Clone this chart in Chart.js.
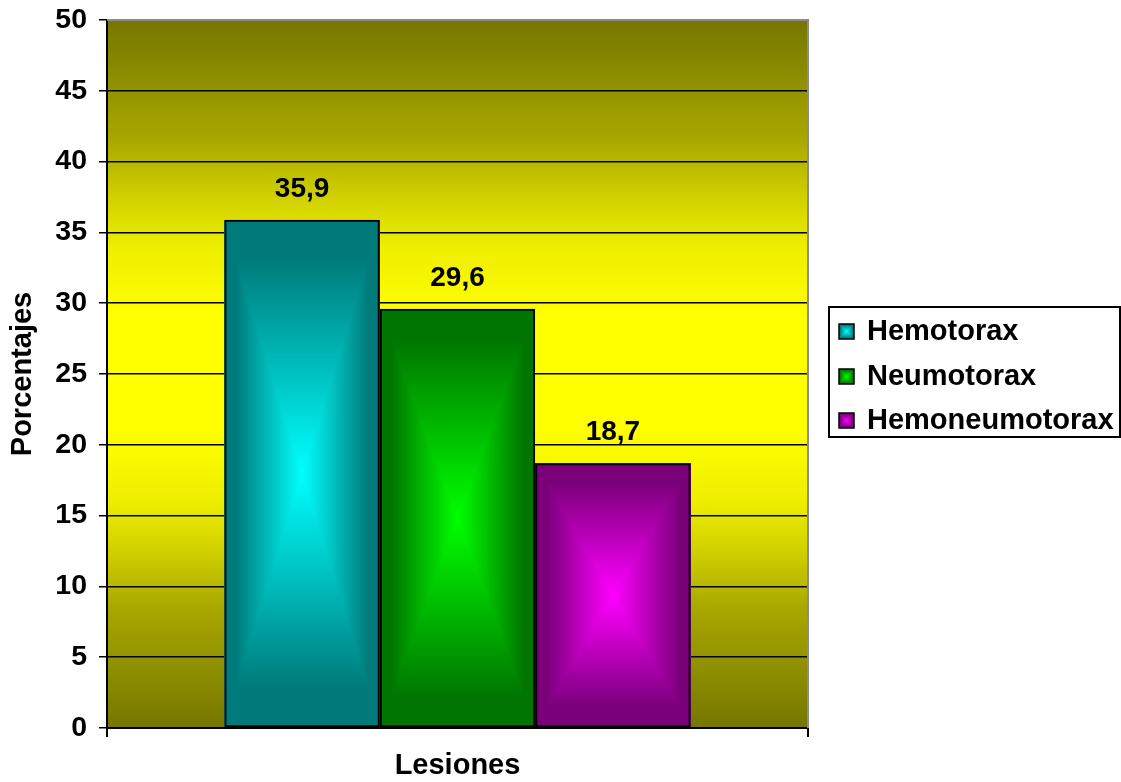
<!DOCTYPE html>
<html>
<head>
<meta charset="utf-8">
<script src="https://cdn.jsdelivr.net/npm/chart.js@4.4.1/dist/chart.umd.min.js"></script>
<style>
  html, body { margin: 0; padding: 0; background: #fff; }
  #wrap { width: 1121px; height: 782px; }
</style>
</head>
<body>
<div id="wrap"><canvas id="lesionesChart" width="1121" height="782"></canvas></div>
<script>
// data
const categories = [''];
const seriesNames = ['Hemotorax', 'Neumotorax', 'Hemoneumotorax'];
const seriesValues = [35.9, 29.6, 18.7];
const yTicks = [0, 5, 10, 15, 20, 25, 30, 35, 40, 45, 50];

// dark edge / bright centre for each series (rgb)
const darkColors = [[0, 122, 122], [0, 118, 0], [122, 0, 122]];
const brightColors = [[0, 255, 255], [0, 255, 0], [255, 0, 255]];

const FONT = '"Liberation Sans", Arial, sans-serif';

// rectangular "from centre" gradient, painted per pixel so there are no seams
function fillRectGradient(ctx, left, top, right, bottom, dark, bright) {
    const x0 = Math.round(left), y0 = Math.round(top);
    const w = Math.max(1, Math.round(right) - x0);
    const h = Math.max(1, Math.round(bottom) - y0);
    const img = ctx.createImageData(w, h);
    const hw = w / 2, hh = h / 2;
    for (let j = 0; j < h; j++) {
        const dy = Math.abs(j + 0.5 - hh) / hh;
        for (let i = 0; i < w; i++) {
            const dx = Math.abs(i + 0.5 - hw) / hw;
            let t = Math.max(dx, dy);       // 0 centre .. 1 edge
            // keep the rim dark a little longer
            t = t > 0.85 ? 1 : t / 0.85;
            const k = 1 - t;
            const p = (j * w + i) * 4;
            img.data[p] = dark[0] + (bright[0] - dark[0]) * k;
            img.data[p + 1] = dark[1] + (bright[1] - dark[1]) * k;
            img.data[p + 2] = dark[2] + (bright[2] - dark[2]) * k;
            img.data[p + 3] = 255;
        }
    }
    const off = document.createElement('canvas');
    off.width = w;
    off.height = h;
    off.getContext('2d').putImageData(img, 0, 0);
    ctx.drawImage(off, x0, y0);
}

// olive -> yellow -> olive plot background
const backgroundPlugin = {
    id: 'plotBackground',
    beforeDraw: (chart) => {
        const { ctx, chartArea } = chart;
        ctx.save();
        ctx.fillStyle = '#ffffff';
        ctx.fillRect(0, 0, chart.width, chart.height);
        const g = ctx.createLinearGradient(0, chartArea.top, 0, chartArea.bottom);
        g.addColorStop(0, '#767600');
        g.addColorStop(0.17, '#a8a800');
        g.addColorStop(0.25, '#d0d000');
        g.addColorStop(0.32, '#eeee00');
        g.addColorStop(0.42, '#ffff00');
        g.addColorStop(0.58, '#ffff00');
        g.addColorStop(0.68, '#eeee00');
        g.addColorStop(0.75, '#d0d000');
        g.addColorStop(0.83, '#a8a800');
        g.addColorStop(1, '#767600');
        ctx.fillStyle = g;
        ctx.fillRect(chartArea.left, chartArea.top, chartArea.right - chartArea.left, chartArea.bottom - chartArea.top);
        ctx.restore();
    },
};

// gradient fill under each bar's border
const barFillPlugin = {
    id: 'barFill',
    beforeDatasetsDraw: (chart) => {
        const { ctx } = chart;
        ctx.save();
        chart.data.datasets.forEach((ds, i) => {
            const meta = chart.getDatasetMeta(i);
            meta.data.forEach((bar) => {
                const { x, y, base, width } = bar.getProps(['x', 'y', 'base', 'width'], true);
                fillRectGradient(ctx, x - width / 2, y, x + width / 2, base, darkColors[i], brightColors[i]);
            });
        });
        ctx.restore();
    },
    afterDatasetsDraw: (chart) => {
        // value labels above the bars
        const { ctx } = chart;
        ctx.save();
        ctx.font = 'bold 28px ' + FONT;
        ctx.fillStyle = '#000';
        ctx.textAlign = 'center';
        ctx.textBaseline = 'alphabetic';
        chart.data.datasets.forEach((ds, i) => {
            const meta = chart.getDatasetMeta(i);
            meta.data.forEach((bar, j) => {
                const txt = ds.data[j].toFixed(1).replace('.', ',');
                ctx.fillText(txt, bar.x, bar.y - 23);
            });
        });
        ctx.restore();
    },
};

// plot frame (grey top/right) and boxed legend on the right
const frameLegendPlugin = {
    id: 'frameLegend',
    afterDraw: (chart) => {
        const { ctx, chartArea } = chart;
        ctx.save();
        ctx.strokeStyle = '#8c8c8c';
        ctx.lineWidth = 2;
        ctx.beginPath();
        ctx.moveTo(chartArea.left, chartArea.top);
        ctx.lineTo(chartArea.right, chartArea.top);
        ctx.lineTo(chartArea.right, chartArea.bottom);
        ctx.stroke();

        const boxX = 829, boxY = 307, boxW = 291, boxH = 130;
        ctx.fillStyle = '#fff';
        ctx.fillRect(boxX, boxY, boxW, boxH);
        ctx.strokeStyle = '#000';
        ctx.lineWidth = 2;
        ctx.strokeRect(boxX, boxY, boxW, boxH);

        ctx.font = 'bold 29px ' + FONT;
        ctx.textAlign = 'left';
        ctx.textBaseline = 'alphabetic';
        seriesNames.forEach((name, i) => {
            const base = 340 + i * 44.5;
            const mTop = Math.round(base - 16);
            fillRectGradient(ctx, 839, mTop, 854, mTop + 15, darkColors[i], brightColors[i]);
            ctx.strokeStyle = '#000';
            ctx.lineWidth = 1.5;
            ctx.strokeRect(839, mTop, 15, 15);
            ctx.fillStyle = '#000';
            ctx.fillText(name, 867, base);
        });
        ctx.restore();
    },
};

const datasets = seriesNames.map((name, i) => ({
    label: name,
    data: [seriesValues[i]],
    backgroundColor: 'rgba(0,0,0,0)',
    borderColor: '#000',
    borderWidth: 2,
    borderSkipped: false,
    barPercentage: 1.0,
    categoryPercentage: 0.665,
}));

const ctx = document.getElementById('lesionesChart').getContext('2d');
const chart = new Chart(ctx, {
    type: 'bar',
    data: {
        labels: categories,
        datasets: datasets,
    },
    options: {
        responsive: false,
        animation: false,
        layout: {
            padding: { top: 20, right: 313, bottom: 0, left: 0 },
        },
        scales: {
            x: {
                afterFit: (scale) => {
                    scale.height = 54;
                    scale.paddingLeft = 0;
                    scale.paddingRight = 0;
                },
                grid: {
                    display: true,
                    offset: true,
                    drawOnChartArea: false,
                    drawTicks: true,
                    tickLength: 9,
                    color: '#000',
                    lineWidth: 2,
                },
                border: { color: '#000', width: 2 },
                ticks: { display: false },
                title: {
                    display: true,
                    text: 'Lesiones',
                    color: '#000',
                    font: { family: FONT, size: 29, weight: 'bold', lineHeight: 1.1 },
                    padding: { top: 0, bottom: 0 },
                },
            },
            y: {
                min: 0,
                max: 50,
                afterFit: (scale) => {
                    scale.width = 107;
                    scale.paddingTop = 0;
                    scale.paddingBottom = 0;
                },
                afterBuildTicks: (scale) => {
                    scale.ticks = yTicks.map((v) => ({ value: v }));
                },
                grid: {
                    color: (c) => (c.tick && c.tick.value === 50 ? '#8c8c8c' : '#000'),
                    lineWidth: 1.5,
                    drawTicks: true,
                    tickLength: 8,
                    tickColor: '#000',
                },
                border: { color: '#000', width: 2 },
                ticks: {
                    padding: 12,
                    color: '#000',
                    font: { family: FONT, size: 28.5, weight: 'bold' },
                },
                title: {
                    display: true,
                    text: 'Porcentajes',
                    color: '#000',
                    font: { family: FONT, size: 29, weight: 'bold', lineHeight: 1.2 },
                    padding: { top: 6, bottom: 0 },
                },
            },
        },
        plugins: {
            legend: { display: false },
            tooltip: { enabled: false },
        },
    },
    plugins: [backgroundPlugin, barFillPlugin, frameLegendPlugin],
});
</script>
</body>
</html>
